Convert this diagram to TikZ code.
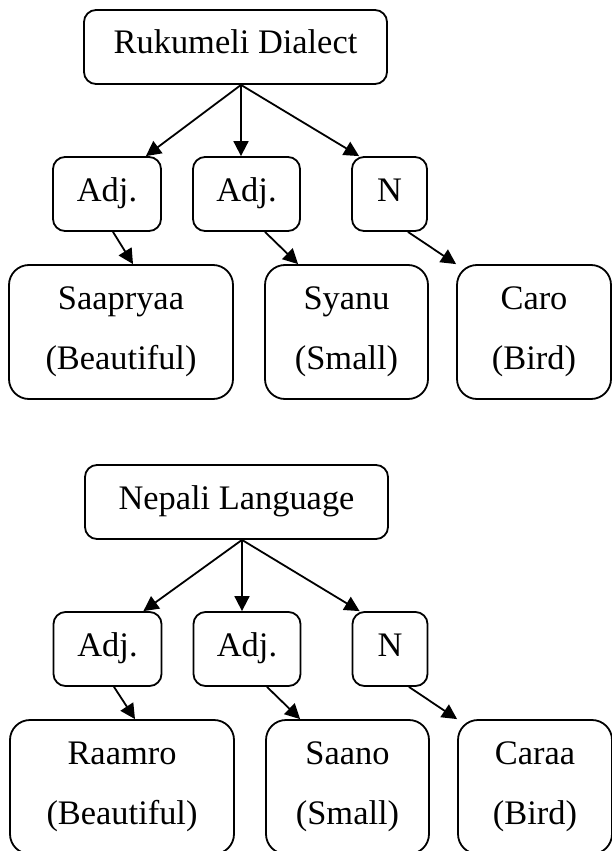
\documentclass[tikz,border=0pt]{standalone}
\usepackage{fontspec}
\setmainfont{Liberation Serif}
\usetikzlibrary{arrows.meta,calc}
\tikzset{
  box/.style={draw, line width=1.8pt, rounded corners=12pt, inner sep=0pt,
    font={\fontsize{34.4}{60}\selectfont}, text height=24pt, text depth=10pt,
    minimum height=74pt},
  wordbox/.style={draw, line width=1.8pt, rounded corners=20pt, inner sep=0pt,
    font={\fontsize{34.4}{60}\selectfont}, align=center,
    minimum height=134pt},
  arr/.style={line width=1.8pt, -{Triangle[length=15pt,width=15pt]}}
}
\begin{document}
\begin{tikzpicture}[x=1pt,y=-1pt]
\useasboundingbox (0,0) rectangle (612,851);
% ---------- upper tree ----------
\node[box, minimum width=303pt] (top1) at (235.5,47) {Rukumeli Dialect};
\node[box, minimum width=108pt] (a1) at (107,194) {Adj.};
\node[box, minimum width=107pt] (b1) at (246.5,194) {Adj.};
\node[box, minimum width=75pt]  (n1) at (389.5,194) {N};
\node[wordbox, minimum width=224pt] (w1) at (121,332) {Saapryaa\\(Beautiful)};
\node[wordbox, minimum width=163pt] (x1) at (346.5,332) {Syanu\\(Small)};
\node[wordbox, minimum width=154pt] (y1) at (534,332) {Caro\\(Bird)};
\coordinate (o1) at ($(top1.south)+(5.5,0)$);
\draw[arr] (o1) -- ($(a1.north east)+(-16,0)$);
\draw[arr] (o1) -- ($(b1.north)+(-5.5,0)$);
\draw[arr] (o1) -- ($(n1.north west)+(8,0)$);
\draw[arr] ($(a1.south)+(6,0)$) -- ($(w1.north)+(12,0)$);
\draw[arr] ($(b1.south)+(18.5,0)$) -- ($(x1.north west)+(34,0)$);
\draw[arr] ($(n1.south east)+(-20,0)$) -- (y1.north west);
% ---------- lower tree ----------
\node[box, minimum width=303pt] (top2) at (236.5,502) {Nepali Language};
\node[box, minimum width=108pt] (a2) at (107.5,649) {Adj.};
\node[box, minimum width=107pt] (b2) at (247,649) {Adj.};
\node[box, minimum width=75pt]  (n2) at (390,649) {N};
\node[wordbox, minimum width=224pt] (w2) at (122,787) {Raamro\\(Beautiful)};
\node[wordbox, minimum width=163pt] (x2) at (347.5,787) {Saano\\(Small)};
\node[wordbox, minimum width=154pt] (y2) at (535,787) {Caraa\\(Bird)};
\coordinate (o2) at ($(top2.south)+(5.5,0)$);
\draw[arr] (o2) -- ($(a2.north east)+(-19,0)$);
\draw[arr] (o2) -- ($(b2.north)+(-5,0)$);
\draw[arr] (o2) -- ($(n2.north west)+(8,0)$);
\draw[arr] ($(a2.south)+(6.5,0)$) -- ($(w2.north)+(13,0)$);
\draw[arr] ($(b2.south)+(20,0)$) -- ($(x2.north west)+(35,0)$);
\draw[arr] ($(n2.south east)+(-19.5,0)$) -- (y2.north west);
\end{tikzpicture}
\end{document}
